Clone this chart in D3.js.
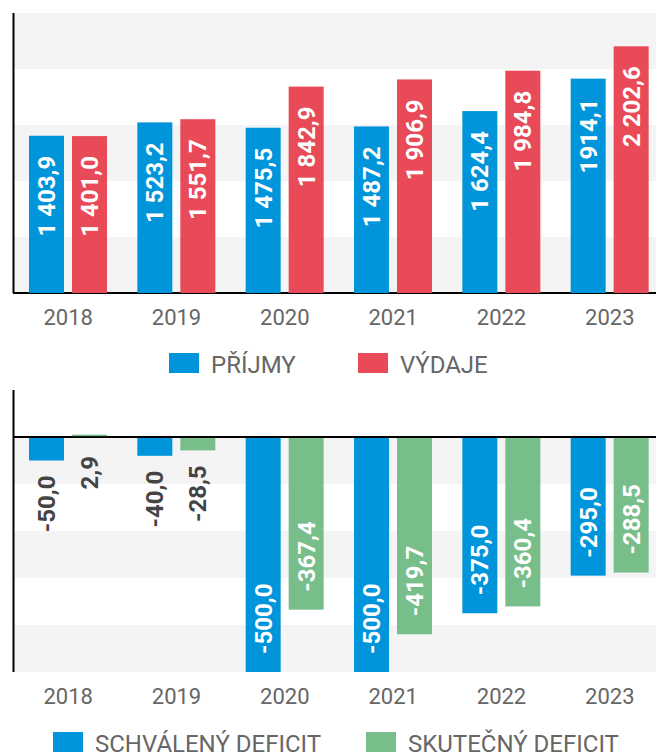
<!DOCTYPE html>
<html>
<head>
<meta charset="utf-8">
<script src="https://cdn.jsdelivr.net/npm/d3@7"></script>
<style>
  body { margin: 0; background: #fff; }
  svg { display: block; font-family: Roboto, "Noto Sans", sans-serif; }
</style>
</head>
<body>
<svg id="chart" width="656" height="755"></svg>
<script>
// roky a hodnoty (mld. Kč)
const roky = ["2018", "2019", "2020", "2021", "2022", "2023"];

const prijmy = [1403.9, 1523.2, 1475.5, 1487.2, 1624.4, 1914.1];
const vydaje = [1401.0, 1551.7, 1842.9, 1906.9, 1984.8, 2202.6];
const prijmyPopisky = ["1 403,9", "1 523,2", "1 475,5", "1 487,2", "1 624,4", "1914,1"];
const vydajePopisky = ["1 401,0", "1 551,7", "1 842,9", "1 906,9", "1 984,8", "2 202,6"];

const schvaleny = [-50.0, -40.0, -500.0, -500.0, -375.0, -295.0];
const skutecny = [2.9, -28.5, -367.4, -419.7, -360.4, -288.5];

const horniTicky = [0, 500, 1000, 1500, 2000, 2500];
const dolniTicky = [-500, -400, -300, -200, -100, 0, 100];

const BLUE = "#0095da", RED = "#e84b57", GREEN = "#77be8a";
const fmt = d3.formatLocale({ decimal: ",", thousands: " ", grouping: [3], minus: "-" }).format(",.1f");

const svg = d3.select("#chart");

function graf(opt) {
  const g = svg.append("g");
  const x = d3.scaleBand().domain(roky).range([14, 664]).padding(0);
  const x1 = d3.scaleBand().domain([0, 1]).range([15, 93]).paddingInner(8 / 43);
  const y = d3.scaleLinear().domain(opt.domain).range(opt.range);

  // strídavé pruhy
  const t = opt.ticks;
  for (let i = 0; i < t.length - 1; i += 2) {
    g.append("rect")
      .attr("x", 14).attr("width", 656 - 14)
      .attr("y", y(t[i + 1])).attr("height", y(t[i]) - y(t[i + 1]))
      .attr("fill", "#f4f4f4");
  }

  // osy
  g.append("line")
    .attr("x1", 13.5).attr("x2", 13.5)
    .attr("y1", y(opt.domain[1])).attr("y2", y(opt.domain[0]))
    .attr("stroke", "#000").attr("stroke-width", 2);
  g.append("line")
    .attr("x1", 13).attr("x2", 656)
    .attr("y1", y(0)).attr("y2", y(0))
    .attr("stroke", "#000").attr("stroke-width", 2);

  const series = opt.series;
  series.forEach((s, si) => {
    s.values.forEach((v, i) => {
      const cx = x(roky[i]) + x1(si);
      const y0 = y(0), yv = y(v);
      const h = Math.abs(y0 - yv);
      g.append("rect")
        .attr("x", cx).attr("width", x1.bandwidth())
        .attr("y", v >= 0 ? y0 - h - (h < 3 ? 1 : 0) : y0 + 1)
        .attr("height", v >= 0 ? Math.max(h, 1.5) : h - 1)
        .attr("fill", s.color);

      const label = s.labels ? s.labels[i] : fmt(v);
      const mid = cx + x1.bandwidth() / 2;
      let ay, anchor, fill;
      if (h > 90) {
        fill = "#fff";
        if (v >= 0) { ay = yv + 20; anchor = "end"; }
        else { ay = yv - 18; anchor = "start"; }
      } else {
        fill = "#444";
        ay = Math.max(y0, yv) + (v >= 0 ? 19 : 15);
        anchor = "end";
      }
      g.append("text")
        .attr("transform", `translate(${mid},${ay}) rotate(-90)`)
        .attr("text-anchor", anchor)
        .attr("dy", "0.35em")
        .attr("font-size", 24).attr("font-weight", "bold")
        .attr("fill", fill)
        .text(label);
    });
  });

  const xa = g.append("g")
    .attr("transform", `translate(0,${opt.labelY})`)
    .call(d3.axisBottom(x).tickSize(0).tickPadding(0));
  xa.select(".domain").remove();
  xa.selectAll("text")
    .attr("dy", 0)
    .attr("font-size", 22).attr("font-family", "Roboto, sans-serif")
    .attr("fill", "#666");

  // legenda
  series.forEach((s, si) => {
    const lx = opt.legendX[si];
    g.append("rect")
      .attr("x", lx).attr("y", opt.legendY - 20)
      .attr("width", 30).attr("height", 20)
      .attr("fill", s.color);
    g.append("text")
      .attr("x", lx + 42).attr("y", opt.legendY)
      .attr("font-size", 24).attr("fill", "#666")
      .text(s.name);
  });
}

graf({
  domain: [0, 2500], range: [293, 13], ticks: horniTicky,
  labelY: 325, legendY: 373, legendX: [169, 358],
  series: [
    { name: "PŘÍJMY", values: prijmy, labels: prijmyPopisky, color: BLUE },
    { name: "VÝDAJE", values: vydaje, labels: vydajePopisky, color: RED }
  ]
});

graf({
  domain: [-500, 100], range: [672, 390], ticks: dolniTicky,
  labelY: 704, legendY: 752, legendX: [53, 366],
  series: [
    { name: "SCHVÁLENÝ DEFICIT", values: schvaleny, color: BLUE },
    { name: "SKUTEČNÝ DEFICIT", values: skutecny, color: GREEN }
  ]
});
</script>
</body>
</html>
